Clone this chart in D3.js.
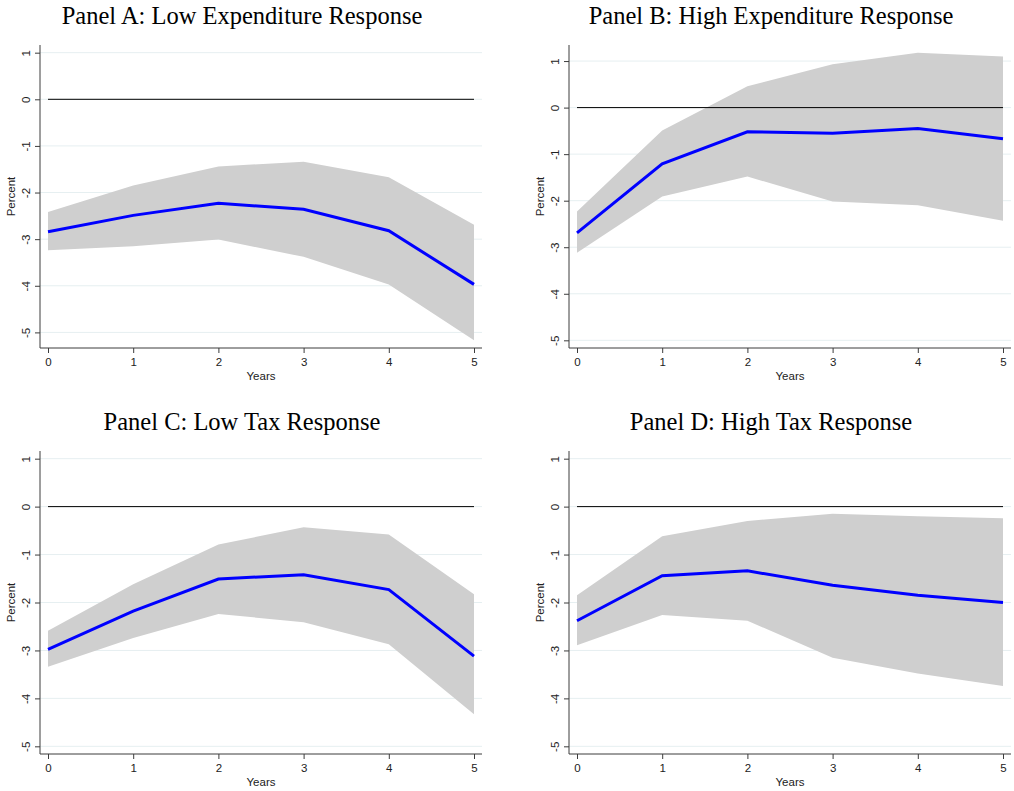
<!DOCTYPE html>
<meta charset="utf-8">
<style>
body { margin: 0; background: #fff; }
.title { font-family: "Liberation Serif", "Times New Roman", serif; font-size: 24.5px; fill: #000; text-anchor: middle; }
.lab { font-family: "Liberation Sans", Arial, sans-serif; font-size: 11.5px; fill: #222; }
.grid { stroke: #e6eff1; stroke-width: 1; }
.band { fill: #cfcfcf; }
.irf { fill: none; stroke: #0000ff; stroke-width: 3; }
.zero { stroke: #000; stroke-width: 1; }
.axisline { stroke: #3c3c3c; stroke-width: 1; }
</style>
<body>
<script src="https://cdn.jsdelivr.net/npm/d3@7"></script>
<script>
// horizon (years after shock) and y tick labels
var years = [0, 1, 2, 3, 4, 5];
var yTicks = [1, 0, -1, -2, -3, -4, -5];
var titles = ["Panel A: Low Expenditure Response", "Panel B: High Expenditure Response",
              "Panel C: Low Tax Response", "Panel D: High Tax Response"];

// impulse responses and confidence bands
var irfA = [-2.84, -2.49, -2.23, -2.36, -2.82, -3.97];
var hiA  = [-2.42, -1.85, -1.44, -1.34, -1.67, -2.69];
var loA  = [-3.24, -3.15, -3.01, -3.38, -3.97, -5.17];

var irfB = [-2.69, -1.21, -0.52, -0.55, -0.45, -0.67];
var hiB  = [-2.23, -0.49, 0.46, 0.93, 1.18, 1.10];
var loB  = [-3.12, -1.91, -1.48, -2.02, -2.10, -2.43];

var irfC = [-2.98, -2.18, -1.51, -1.42, -1.73, -3.12];
var hiC  = [-2.59, -1.62, -0.79, -0.43, -0.58, -1.83];
var loC  = [-3.34, -2.74, -2.24, -2.41, -2.87, -4.33];

var irfD = [-2.38, -1.44, -1.34, -1.64, -1.85, -2.00];
var hiD  = [-1.85, -0.62, -0.30, -0.15, -0.20, -0.24];
var loD  = [-2.89, -2.26, -2.38, -3.15, -3.48, -3.74];

var W = 1014, H = 791;

var panels = [
  {title: titles[0], irf: irfA, hi: hiA, lo: loA, x0: 40,  x1: 482,  y0: 45,  y1: 348},
  {title: titles[1], irf: irfB, hi: hiB, lo: loB, x0: 569, x1: 1011, y0: 45,  y1: 348},
  {title: titles[2], irf: irfC, hi: hiC, lo: loC, x0: 40,  x1: 482,  y0: 451, y1: 754},
  {title: titles[3], irf: irfD, hi: hiD, lo: loD, x0: 569, x1: 1011, y0: 451, y1: 754}
];

// plain hyphen minus, no decimals (Stata style)
var fmt = function(d) { return String(d); };

var svg = d3.select("body").append("svg")
    .attr("width", W)
    .attr("height", H);

panels.forEach(function(p) {
  var g = svg.append("g");

  var x = d3.scaleLinear().domain([0, 5]).range([p.x0 + 8, p.x1 - 8]);

  // y range: ticks plus data, padded a little like Stata does
  var lo = Math.min(d3.min(yTicks), d3.min(p.lo)),
      hi = Math.max(d3.max(yTicks), d3.max(p.hi)),
      pad = 0.0267 * (hi - lo);
  var y = d3.scaleLinear().domain([lo - pad, hi + pad]).range([p.y1, p.y0]);

  // gridlines
  g.selectAll(".grid")
      .data(yTicks)
    .enter().append("line")
      .attr("class", "grid")
      .attr("x1", p.x0).attr("x2", p.x1)
      .attr("y1", function(d) { return y(d); })
      .attr("y2", function(d) { return y(d); });

  // confidence band
  var area = d3.area()
      .x(function(d, i) { return x(years[i]); })
      .y0(function(d, i) { return y(p.lo[i]); })
      .y1(function(d, i) { return y(p.hi[i]); });
  g.append("path").datum(years).attr("class", "band").attr("d", area);

  // zero line
  g.append("line").attr("class", "zero")
      .attr("x1", x(years[0])).attr("x2", x(years[years.length - 1]))
      .attr("y1", y(0)).attr("y2", y(0));

  // response
  var line = d3.line()
      .x(function(d, i) { return x(years[i]); })
      .y(function(d) { return y(d); });
  g.append("path").datum(p.irf).attr("class", "irf").attr("d", line);

  // axes
  var ax = g.append("g")
      .attr("transform", "translate(0," + p.y1 + ")")
      .call(d3.axisBottom(x).tickValues(years).tickFormat(fmt)
            .tickSize(5).tickPadding(4.5).tickSizeOuter(0));
  var ay = g.append("g")
      .attr("transform", "translate(" + p.x0 + ",0)")
      .call(d3.axisLeft(y).tickValues(yTicks).tickFormat(fmt)
            .tickSize(5).tickSizeOuter(0));
  [ax, ay].forEach(function(a) {
    a.select(".domain").remove();
    a.selectAll("line").attr("stroke", "#3c3c3c");
    a.selectAll("text").attr("class", "lab").attr("fill", null);
    a.attr("font-family", null).attr("font-size", null);
  });
  ay.selectAll("text")
      .attr("transform", "rotate(-90)")
      .attr("text-anchor", "middle")
      .attr("x", 0).attr("y", -14).attr("dy", "0.35em");

  g.append("line").attr("class", "axisline")
      .attr("x1", p.x0).attr("x2", p.x0).attr("y1", p.y0).attr("y2", p.y1);
  g.append("line").attr("class", "axisline")
      .attr("x1", p.x0).attr("x2", p.x1).attr("y1", p.y1).attr("y2", p.y1);

  // labels
  g.append("text").attr("class", "lab")
      .attr("text-anchor", "middle")
      .attr("x", (p.x0 + p.x1) / 2).attr("y", p.y1 + 32)
      .text("Years");
  g.append("text").attr("class", "lab")
      .attr("text-anchor", "middle")
      .attr("transform", "translate(" + (p.x0 - 29) + "," + ((p.y0 + p.y1) / 2) + ")rotate(-90)")
      .attr("dy", "0.35em")
      .text("Percent");

  g.append("text").attr("class", "title")
      .attr("x", (p.x0 + p.x1) / 2 - 19).attr("y", p.y0 - 21.5)
      .text(p.title);
});
</script>
</body>
